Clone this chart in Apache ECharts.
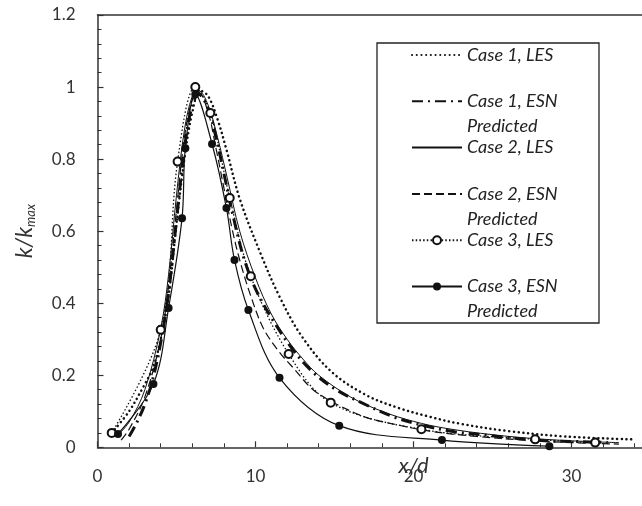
<!DOCTYPE html>
<html>
<head>
<meta charset="utf-8">
<script src="https://cdn.jsdelivr.net/npm/echarts@6/dist/echarts.min.js"></script>
<style>
  html, body { margin: 0; padding: 0; background: #fff; }
  #chart { width: 642px; height: 506px; }
</style>
</head>
<body>
<div id="chart"></div>
<script>
// Normalised turbulent kinetic energy k/k_max along x/d for three cases,
// LES reference profiles and ESN predictions.

const case1LesX = [1.1, 2.0, 2.8, 3.5, 4.0, 4.5, 5.0, 5.5, 6.0, 6.5, 7.0, 7.6, 8.2, 9.0, 10.3, 11.5, 12.9, 14.8, 17.0, 19.0, 21.0, 23.0, 26.0, 29.6, 33.8];
const case1LesY = [0.05, 0.10, 0.16, 0.22, 0.30, 0.42, 0.62, 0.80, 0.93, 0.99, 0.975, 0.91, 0.82, 0.69, 0.54, 0.42, 0.31, 0.21, 0.145, 0.11, 0.085, 0.065, 0.045, 0.03, 0.022];

const case1EsnX = [2.0, 2.5, 3.0, 3.5, 4.0, 4.5, 5.0, 5.5, 6.0, 6.4, 7.0, 7.5, 8.0, 8.7, 9.3, 10.0, 11.0, 12.3, 13.6, 15.1, 16.8, 18.7, 20.5, 22.6, 24.5, 26.4, 28.3, 30.4, 32.3];
const case1EsnY = [0.03, 0.07, 0.12, 0.19, 0.29, 0.43, 0.63, 0.83, 0.95, 0.98, 0.94, 0.86, 0.76, 0.62, 0.52, 0.44, 0.36, 0.275, 0.21, 0.16, 0.122, 0.085, 0.062, 0.043, 0.034, 0.025, 0.018, 0.016, 0.013];

const case2LesX = [1.2, 2.0, 3.0, 4.0, 4.5, 5.0, 5.5, 6.0, 6.4, 7.0, 7.6, 8.2, 9.0, 10.0, 11.0, 12.0, 13.0, 14.0, 16.0, 18.0, 20.0, 22.0, 25.0, 28.0, 31.0, 33.0];
const case2LesY = [0.03, 0.07, 0.16, 0.33, 0.48, 0.70, 0.88, 0.975, 0.99, 0.95, 0.86, 0.75, 0.60, 0.47, 0.37, 0.30, 0.245, 0.20, 0.14, 0.10, 0.072, 0.053, 0.035, 0.023, 0.016, 0.013];

const case2EsnX = [1.5, 2.0, 3.0, 4.0, 4.5, 5.0, 5.5, 6.0, 6.4, 7.0, 7.5, 8.0, 8.5, 9.0, 9.7, 10.5, 11.5, 12.5, 13.5, 14.3, 15.2, 17.0, 19.0, 21.0, 24.0, 27.0, 30.0, 33.0];
const case2EsnY = [0.02, 0.05, 0.14, 0.30, 0.45, 0.66, 0.86, 0.965, 0.985, 0.93, 0.83, 0.72, 0.61, 0.52, 0.42, 0.33, 0.265, 0.215, 0.165, 0.14, 0.118, 0.083, 0.062, 0.045, 0.03, 0.02, 0.013, 0.009];

const case3LesX = [0.9, 4.0, 5.07, 6.19, 7.14, 8.37, 9.7, 12.1, 14.76, 20.5, 27.7, 31.5];
const case3LesY = [0.04, 0.326, 0.793, 1.0, 0.928, 0.692, 0.475, 0.259, 0.124, 0.05, 0.022, 0.013];

const case3EsnX = [1.3, 3.54, 4.5, 5.35, 5.56, 6.19, 7.25, 8.16, 8.67, 9.55, 11.52, 15.3, 21.8, 28.6];
const case3EsnY = [0.037, 0.176, 0.387, 0.636, 0.83, 0.98, 0.842, 0.664, 0.52, 0.381, 0.193, 0.06, 0.02, 0.003];

const seriesNames = [
  'Case 1, LES', 'Case 1, ESN Predicted',
  'Case 2, LES', 'Case 2, ESN Predicted',
  'Case 3, LES', 'Case 3, ESN Predicted'
];

const xTickValues = [0, 10, 20, 30];
const yTickValues = [0, 0.2, 0.4, 0.6, 0.8, 1, 1.2];

function pairs(xs, ys) { return xs.map((x, i) => [x, ys[i]]); }

const FONT = 'Lato, "Open Sans", sans-serif';
const INK = '#111';
const TEXT = '#333';
const AXIS = '#333';

const chart = echarts.init(document.getElementById('chart'), null, { renderer: 'canvas' });

const baseLine = { type: 'line', smooth: 0.35, clip: true, animation: false, z: 2 };
// lines drawn without markers keep an invisible legend symbol
const noMarker = { symbol: 'none', itemStyle: { color: 'rgba(0,0,0,0)' } };

chart.setOption({
  backgroundColor: '#fff',
  animation: false,
  grid: { left: 97.5, top: 15, right: -87.5, bottom: 58.7, containLabel: false, outerBoundsMode: 'none' },
  xAxis: [{
    type: 'value', min: 0, max: 40, interval: 10,
    name: 'x/d', nameLocation: 'middle', nameGap: 8, nameMoveOverlap: false,
    nameTextStyle: { fontFamily: FONT, fontStyle: 'italic', fontSize: 22, color: TEXT, verticalAlign: 'top' },
    axisLine: { show: true, onZero: false, lineStyle: { color: AXIS, width: 1.5 } },
    axisTick: { show: true, inside: true, length: 6, lineStyle: { color: AXIS, width: 1.2 } },
    minorTick: { show: true, splitNumber: 5, length: 4, lineStyle: { color: AXIS, width: 1 } },
    axisLabel: {
      margin: 21, fontFamily: FONT, fontSize: 17, color: TEXT, showMaxLabel: false,
      formatter: v => (xTickValues.includes(v) ? String(v) : '')
    },
    splitLine: { show: false }
  }, {
    type: 'value', min: 0, max: 40, position: 'top',
    axisLine: { show: true, onZero: false, lineStyle: { color: AXIS, width: 1.5 } },
    axisTick: { show: false }, axisLabel: { show: false }, splitLine: { show: false }
  }],
  yAxis: {
    type: 'value', min: 0, max: 1.2, interval: 0.2,
    name: '{k|k/k}{s|max}', nameLocation: 'middle', nameRotate: 90, nameGap: 60, nameMoveOverlap: false,
    nameTextStyle: {
      color: TEXT,
      rich: {
        k: { fontFamily: FONT, fontStyle: 'italic', fontSize: 23, color: TEXT, lineHeight: 26 },
        s: { fontFamily: FONT, fontStyle: 'italic', fontSize: 13, color: TEXT, lineHeight: 26, verticalAlign: 'bottom', padding: [8, 0, 0, 0] }
      }
    },
    axisLine: { show: true, onZero: false, lineStyle: { color: AXIS, width: 1.5 } },
    axisTick: { show: true, inside: true, length: 6, lineStyle: { color: AXIS, width: 1.2 } },
    minorTick: { show: true, splitNumber: 5, length: 4, lineStyle: { color: AXIS, width: 1 } },
    axisLabel: {
      margin: 22, fontFamily: FONT, fontSize: 17, color: TEXT,
      formatter: v => {
        const hit = yTickValues.find(t => Math.abs(t - v) < 1e-9);
        return hit === undefined ? '' : String(+hit.toFixed(1));
      }
    },
    splitLine: { show: false }
  },
  legend: {
    orient: 'vertical', left: 411, top: 17.5, padding: 0,
    itemWidth: 50, itemHeight: 10, itemGap: -28.7,
    selectedMode: false,
    data: seriesNames,
    textStyle: { fontFamily: FONT, fontStyle: 'italic', fontSize: 18, color: '#222', lineHeight: 25 },
    formatter: name => name.endsWith(' Predicted')
      ? '\n' + name.replace(' Predicted', '\nPredicted')
      : '\n' + name + '\n'
  },
  graphic: [{
    type: 'rect', z: 3,
    shape: { x: 377, y: 43, width: 222, height: 280 },
    style: { fill: '#fff', stroke: '#222', lineWidth: 1.3 }
  }],
  series: [
    Object.assign({}, baseLine, noMarker, {
      name: seriesNames[0], data: pairs(case1LesX, case1LesY),
      lineStyle: { color: INK, width: 2.5, type: [0.1, 4.6], cap: 'round' }
    }),
    Object.assign({}, baseLine, noMarker, {
      name: seriesNames[1], data: pairs(case1EsnX, case1EsnY),
      lineStyle: { color: INK, width: 3, type: [11, 5, 2, 5] }
    }),
    Object.assign({}, baseLine, noMarker, {
      name: seriesNames[2], data: pairs(case2LesX, case2LesY),
      lineStyle: { color: INK, width: 1 }
    }),
    Object.assign({}, baseLine, noMarker, {
      name: seriesNames[3], data: pairs(case2EsnX, case2EsnY),
      lineStyle: { color: INK, width: 1.2, type: [8, 4] }
    }),
    Object.assign({}, baseLine, {
      name: seriesNames[4], data: pairs(case3LesX, case3LesY),
      symbol: 'emptyCircle', symbolSize: 8, showSymbol: true,
      lineStyle: { color: INK, width: 1.3, type: [1.5, 2.2] },
      itemStyle: { color: INK, borderColor: INK, borderWidth: 1 }
    }),
    Object.assign({}, baseLine, {
      name: seriesNames[5], data: pairs(case3EsnX, case3EsnY),
      symbol: 'circle', symbolSize: 8, showSymbol: true,
      lineStyle: { color: INK, width: 1.2 },
      itemStyle: { color: INK }
    })
  ]
});
</script>
</body>
</html>
